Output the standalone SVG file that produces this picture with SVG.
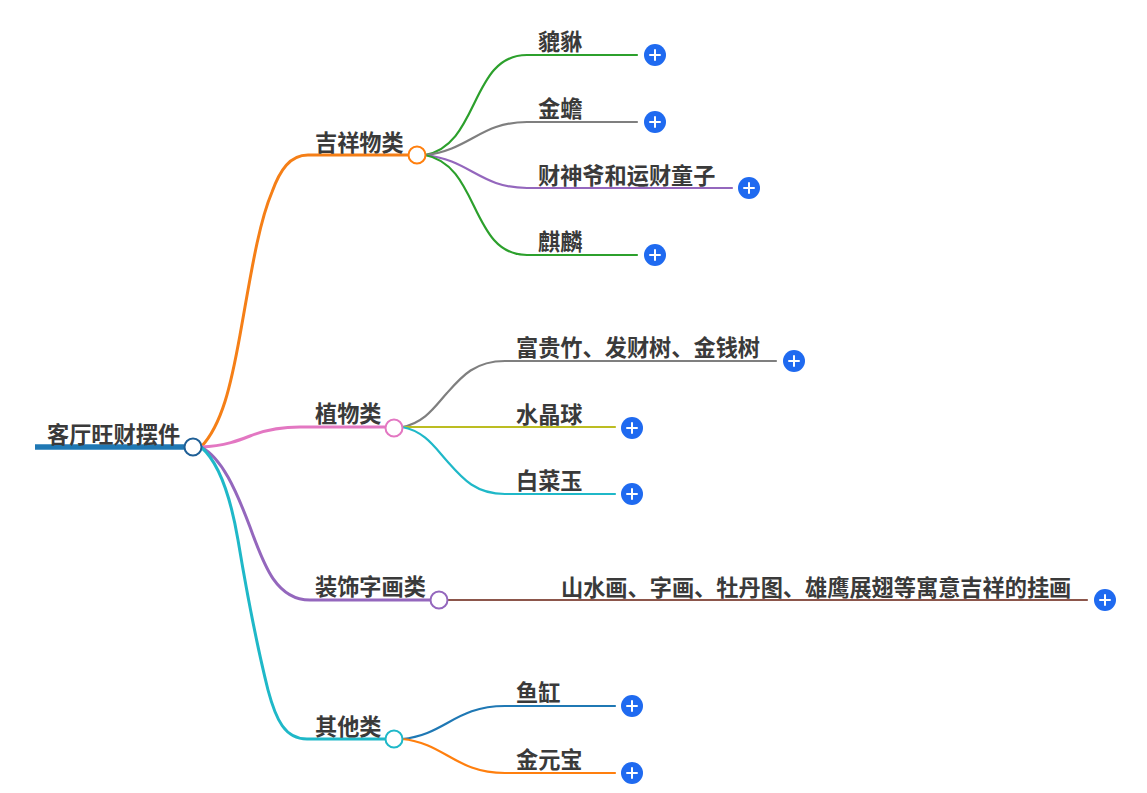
<svg xmlns="http://www.w3.org/2000/svg" width="1147" height="793" viewBox="0 0 1147 793">
<style>
.c{fill:none;stroke-width:2.2;stroke-linecap:round}
.m{fill:none;stroke-width:3;stroke-linecap:round}
.t{font-family:"Noto Sans CJK SC","Liberation Sans",sans-serif;font-weight:700;font-size:22.2px;fill:#3a3a3a}
.d{fill:#fff;stroke-width:2}
.b{fill:#1f6af0}
.p{stroke:#fff;stroke-width:2;fill:none;stroke-linecap:round}
</style>
<defs><g id="plus"><circle class="b" r="11"/><path class="p" d="M-5 0H5M0-5V5"/></g></defs>
<rect width="1147" height="793" fill="#fff"/>
<g id="connectors">
<path d="M35 447H186" fill="none" stroke="#1f78b4" stroke-width="5.5"/>
<path class="m" stroke="#f57f17" d="M201 447C222 425 231 385 240 335C250 280 258 225 272 192C280 170 290 155 308 155H409"/>
<path class="m" stroke="#e377c2" d="M201 447C225 446 240 440 250 436C265 430 280 427 300 427H386"/>
<path class="m" stroke="#9467bd" d="M201 447C222 458 236 490 250 527C263 562 275 600 310 600H431"/>
<path class="m" stroke="#1fb8c8" d="M201 447C222 465 232 505 238 540C248 600 258 650 268 690C276 720 285 739 307 739H386"/>
<path class="c" stroke="#2ca02c" d="M425 155C480 145 470 55 527 55H637"/>
<path class="c" stroke="#7f7f7f" d="M425 155C470 150 480 122 527 122H637"/>
<path class="c" stroke="#9467bd" d="M425 155C470 160 480 188 527 188H732"/>
<path class="c" stroke="#2ca02c" d="M425 155C480 165 470 255 527 255H637"/>
<path class="c" stroke="#7f7f7f" d="M402 427C425 423 436 405 447 393C462 376 475 361 505 361H776"/>
<path class="c" stroke="#bcbd22" d="M402 427H615"/>
<path class="c" stroke="#1fb8c8" d="M402 427C425 431 436 449 447 461C462 478 475 494 505 494H615"/>
<path class="c" stroke="#8c564b" d="M447 600H1087"/>
<path class="c" stroke="#1f78b4" d="M402 739C445 735 455 706 505 706H615"/>
<path class="c" stroke="#ff7f0e" d="M402 739C445 743 455 773 505 773H615"/>
</g>
<g id="root"><text class="t" x="47" y="443">客厅旺财摆件</text><circle class="d" stroke="#1f5f96" cx="193" cy="447" r="8.5"/></g>
<g id="n1"><text class="t" x="315" y="151">吉祥物类</text><circle class="d" stroke="#ff7f0e" cx="417" cy="155" r="8.5"/></g>
<g id="n2"><text class="t" x="315" y="422">植物类</text><circle class="d" stroke="#e377c2" cx="394" cy="428" r="8.5"/></g>
<g id="n3"><text class="t" x="315" y="595">装饰字画类</text><circle class="d" stroke="#9467bd" cx="439" cy="600" r="8.5"/></g>
<g id="n4"><text class="t" x="315" y="735">其他类</text><circle class="d" stroke="#1fb8c8" cx="394" cy="739" r="8.5"/></g>
<g id="n1a"><text class="t" x="538" y="50">貔貅</text><use href="#plus" x="655" y="55"/></g>
<g id="n1b"><text class="t" x="538" y="117">金蟾</text><use href="#plus" x="655" y="122"/></g>
<g id="n1c"><text class="t" x="538" y="184">财神爷和运财童子</text><use href="#plus" x="749" y="188"/></g>
<g id="n1d"><text class="t" x="538" y="250">麒麟</text><use href="#plus" x="655" y="255"/></g>
<g id="n2a"><text class="t" x="516" y="356">富贵竹、发财树、金钱树</text><use href="#plus" x="794" y="361"/></g>
<g id="n2b"><text class="t" x="516" y="423">水晶球</text><use href="#plus" x="632" y="428"/></g>
<g id="n2c"><text class="t" x="516" y="489">白菜玉</text><use href="#plus" x="632" y="494"/></g>
<g id="n3a"><text class="t" x="561" y="596">山水画、字画、牡丹图、雄鹰展翅等寓意吉祥的挂画</text><use href="#plus" x="1105" y="600"/></g>
<g id="n4a"><text class="t" x="516" y="701">鱼缸</text><use href="#plus" x="632" y="706"/></g>
<g id="n4b"><text class="t" x="516" y="768">金元宝</text><use href="#plus" x="632" y="773"/></g>
</svg>
